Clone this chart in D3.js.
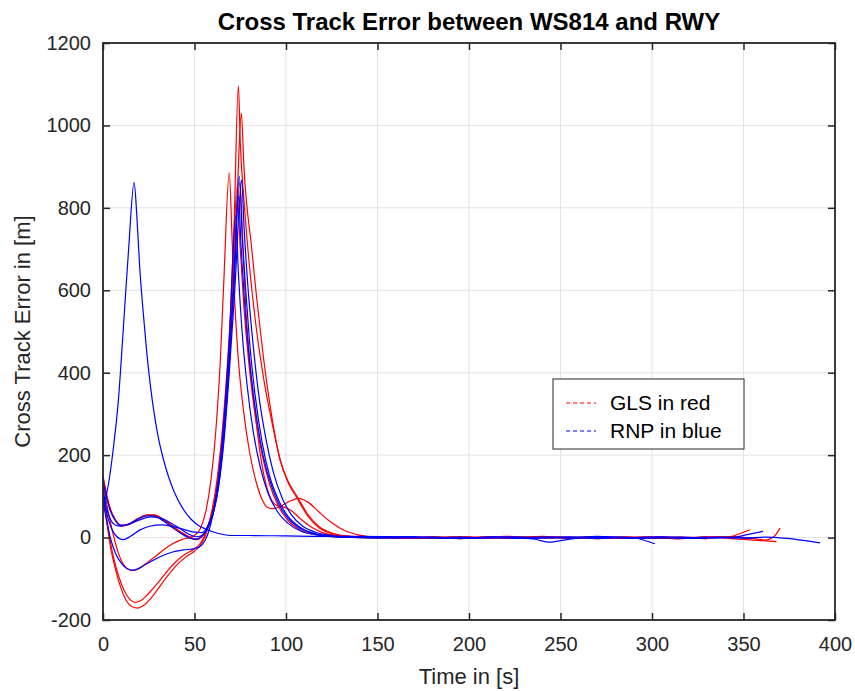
<!DOCTYPE html>
<html>
<head>
<meta charset="utf-8">
<script src="https://cdn.jsdelivr.net/npm/d3@7"></script>
<style>
  body { margin: 0; background: #fff; }
  svg { font-family: "Liberation Sans", Arial, sans-serif; }
</style>
</head>
<body>
<svg id="chart" width="855" height="691"></svg>
<script>
// tick values
const xTicks = [0, 50, 100, 150, 200, 250, 300, 350, 400];
const yTicks = [-200, 0, 200, 400, 600, 800, 1000, 1200];

// GLS runs (red), [time s, error m]
const gls1 = [[0,150],[2,105],[4,70],[7,42],[10,30],[14,33],[19,46],[24,55],[28,55],[33,44],[38,28],[43,12],[48,0],[51,-4],[54,4],[57,25],[60,65],[63,140],[66,270],[69,470],[71.5,740],[74,1096],[75,960],[77,820],[80,660],[84,500],[88,380],[93,265],[97,185],[101,135],[106,96],[112,52],[118,24],[125,10],[135,3],[150,0],[165,-2],[180,1],[195,-3],[210,2],[225,-1],[240,3],[255,-2],[270,1],[285,-2],[300,2],[315,-1],[330,2],[341,0],[347,8],[353.5,19]];
const gls2 = [[0,110],[2,40],[4,-20],[7,-80],[10,-125],[13,-155],[16,-168],[19,-171],[22,-165],[26,-148],[30,-125],[35,-95],[40,-68],[45,-48],[50,-33],[53,-20],[56,5],[59,50],[62,120],[65,230],[68,390],[71,600],[73.5,850],[75.6,1030],[77,900],[81.3,700],[84,580],[87.6,440],[92,300],[96.7,190],[101,138],[106,100],[112,56],[118,27],[125,11],[135,3],[150,0],[165,2],[180,-1],[195,1],[210,-2],[225,2],[240,-1],[255,1],[270,-3],[285,1],[300,-2],[315,1],[330,-1],[345,2],[355,-2],[362,-6],[366,0],[370,23]];
const gls3 = [[0,130],[3,60],[6,0],[9,-45],[12,-70],[16,-80],[19,-77],[23,-65],[28,-48],[33,-30],[38,-15],[43,-5],[47,0],[50,5],[53,20],[56,60],[59,140],[62,280],[64,420],[66,620],[69,885],[70.5,730],[72,570],[74,430],[77,300],[80,210],[84,130],[87,92],[90,73],[93,70],[97,76],[102,88],[107,95],[112,86],[118,62],[125,36],[132,17],[140,6],[150,1],[165,-1],[180,2],[195,-1],[210,1],[225,-2],[240,2],[255,0],[270,-2],[285,2],[300,0],[315,-3],[330,1],[345,-3],[355,-6],[362,-8],[368,-10]];
const gls4 = [[0,120],[2,50],[4,-10],[7,-70],[10,-112],[13,-140],[17.5,-157],[21,-152],[25,-135],[30,-110],[35,-82],[40,-58],[45,-40],[50,-27],[53,-15],[56,10],[59,55],[62,130],[65,250],[68,420],[71,630],[74.8,860],[76.5,700],[78,560],[80,440],[83,310],[86,200],[89,130],[92,92],[95,78],[99,74],[103,65],[108,45],[114,25],[120,12],[130,4],[145,0],[160,2],[175,-1],[190,2],[205,0],[220,3],[235,1],[250,-1],[265,2],[280,-1],[295,1],[310,-2],[325,0],[338,2],[346,3]];
const gls5 = [[0,145],[2,100],[4,68],[7,40],[10,28],[14,31],[19,44],[24,53],[28,54],[33,43],[38,27],[43,11],[48,-1],[51,-5],[54,2],[57,22],[60,60],[63,130],[66,260],[69,450],[71,650],[73.2,850],[75,700],[77,560],[80,410],[83,300],[87,200],[91,130],[96,75],[101,42],[107,20],[115,8],[125,2],[140,0],[155,1],[170,-2],[185,0],[200,2],[215,-1],[230,0],[245,2],[260,-1],[275,1],[290,-1],[305,2],[318,0],[330,-3]];

// RNP runs (blue)
const rnp1 = [[0,70],[3,130],[6,230],[8.4,333],[11,500],[14,700],[17,862],[18.5,780],[20,660],[22,545],[24,445],[26,365],[28,300],[30,248],[33,190],[36,145],[39,110],[43,75],[48,45],[52,30],[56,21],[60,14],[65,8],[70,5],[80,5],[100,4],[120,3],[140,3],[160,2],[180,0],[200,-1],[215,1],[230,-2],[245,0],[260,1],[275,-1],[290,0],[305,2],[318,-1],[330,1]];
const rnp2 = [[0,140],[2,95],[4,65],[7,40],[10,30],[14,33],[19,45],[24,53],[28,52],[33,40],[38,24],[43,9],[48,-2],[51,-4],[54,3],[57,20],[60,55],[63,120],[66,240],[69,420],[71.5,620],[74.5,877],[76,740],[78,600],[80,480],[83,350],[87,230],[91,150],[96,90],[101,52],[107,27],[114,12],[122,5],[135,1],[150,0],[165,1],[180,-1],[195,1],[210,-1],[225,0],[236,-4],[244,-11],[252,-6],[262,0],[275,1],[290,-1],[305,1],[320,-2],[335,0],[345,1],[352,7],[360.7,15]];
const rnp3 = [[0,100],[2,60],[4,30],[7,5],[11,-5],[15,3],[20,18],[26,28],[32,31],[38,27],[44,20],[50,13],[54,12],[57,25],[60,55],[63,120],[66,230],[69,400],[72,600],[75.8,867],[77,760],[79,620],[82,470],[85,350],[89,240],[93,160],[98,95],[103,55],[109,28],[116,13],[125,5],[135,1],[150,0],[165,-1],[180,1],[195,-1],[210,0],[225,2],[240,-1],[255,1],[270,-2],[283,1],[290,0],[296,-7],[301.6,-15]];
const rnp4 = [[0,90],[2,40],[4,0],[7,-40],[10,-62],[13,-75],[16,-79],[19,-76],[23,-66],[28,-54],[33,-43],[38,-35],[44,-30],[50,-27],[54,-18],[57,5],[60,55],[63,140],[66,280],[69,480],[72.5,782],[74,640],[76,500],[79,360],[82,260],[86,170],[90,110],[95,65],[101,35],[108,16],[116,7],[125,2],[140,0],[155,-1],[170,1],[185,0],[200,-1],[215,1],[230,-1],[245,1],[260,0],[275,2],[290,-1],[305,0],[320,-2],[335,1],[350,-1],[362,1],[373.6,-2],[383,-7],[391.8,-13]];
const rnp5 = [[0,115],[2,70],[4,45],[7,30],[10,28],[14,32],[20,43],[26,50],[31,48],[36,38],[42,22],[47,8],[51,2],[54,5],[57,25],[60,60],[63,130],[66,250],[69,430],[72,650],[74,830],[75.5,700],[77.5,560],[80,430],[83,320],[87,210],[91,140],[96,82],[101,47],[107,24],[114,11],[122,4],[135,1],[150,0],[165,2],[180,0],[195,-2],[210,1],[225,-1],[240,1],[255,-1],[270,3],[285,0],[300,-1],[315,1],[330,-1],[345,0],[355,-2]];

const redSeries = [gls1, gls2, gls3, gls4, gls5];
const blueSeries = [rnp1, rnp2, rnp3, rnp4, rnp5];
const legendLabels = ["GLS in red", "RNP in blue"];

const width = 855, height = 691;
const margin = {top: 43, right: 20, bottom: 71, left: 103};

const svg = d3.select("#chart");

const x = d3.scaleLinear()
  .domain([0, 400])
  .range([margin.left, width - margin.right]);

const y = d3.scaleLinear()
  .domain([-200, 1200])
  .range([height - margin.bottom, margin.top]);

const axisColor = "#262626";

// grid
svg.append("g")
  .selectAll("line")
  .data(xTicks.slice(1, -1))
  .enter().append("line")
    .attr("x1", d => x(d)).attr("x2", d => x(d))
    .attr("y1", y(-200)).attr("y2", y(1200))
    .attr("stroke", "#e3e3e3").attr("stroke-width", 1);

svg.append("g")
  .selectAll("line")
  .data(yTicks.slice(1, -1))
  .enter().append("line")
    .attr("x1", x(0)).attr("x2", x(400))
    .attr("y1", d => y(d)).attr("y2", d => y(d))
    .attr("stroke", "#e3e3e3").attr("stroke-width", 1);

// data lines
const line = d3.line()
  .x(d => x(d[0]))
  .y(d => y(d[1]))
  .curve(d3.curveMonotoneX);

const plot = svg.append("g");

redSeries.forEach(s => {
  plot.append("path")
    .datum(s)
    .attr("fill", "none")
    .attr("stroke", "#ff0000")
    .attr("stroke-width", 1.2)
    .attr("d", line);
});

blueSeries.forEach(s => {
  plot.append("path")
    .datum(s)
    .attr("fill", "none")
    .attr("stroke", "#0000ff")
    .attr("stroke-width", 1.2)
    .attr("d", line);
});

// axes (ticks inside, mirrored)
const tickLen = 7;
const fmt = d => String(d);

const xAxis = g => g
  .attr("transform", `translate(0,${y(-200)})`)
  .call(d3.axisBottom(x).tickValues(xTicks).tickFormat(fmt).tickSize(-tickLen).tickPadding(tickLen + 10))
  .call(g => g.select(".domain").remove());

const xAxisTop = g => g
  .attr("transform", `translate(0,${y(1200)})`)
  .call(d3.axisTop(x).tickValues(xTicks).tickSize(-tickLen).tickFormat(""))
  .call(g => g.select(".domain").remove());

const yAxis = g => g
  .attr("transform", `translate(${x(0)},0)`)
  .call(d3.axisLeft(y).tickValues(yTicks).tickFormat(fmt).tickSize(-tickLen).tickPadding(tickLen + 5))
  .call(g => g.select(".domain").remove());

const yAxisRight = g => g
  .attr("transform", `translate(${x(400)},0)`)
  .call(d3.axisRight(y).tickValues(yTicks).tickSize(-tickLen).tickFormat(""))
  .call(g => g.select(".domain").remove());

[xAxis, xAxisTop, yAxis, yAxisRight].forEach(a => {
  svg.append("g").call(a)
    .call(g => g.selectAll(".tick line").attr("stroke", axisColor).attr("stroke-width", 1.5))
    .call(g => g.selectAll(".tick text")
      .attr("fill", axisColor)
      .attr("font-size", "20px")
      .attr("font-family", "Liberation Sans, Arial, sans-serif"));
});

// box
svg.append("rect")
  .attr("x", x(0)).attr("y", y(1200))
  .attr("width", x(400) - x(0)).attr("height", y(-200) - y(1200))
  .attr("fill", "none").attr("stroke", axisColor).attr("stroke-width", 1.8);

// title and labels
svg.append("text")
  .attr("x", (x(0) + x(400)) / 2).attr("y", 30)
  .attr("text-anchor", "middle")
  .attr("font-size", "24px").attr("font-weight", "bold")
  .attr("fill", "#000")
  .text("Cross Track Error between WS814 and RWY");

svg.append("text")
  .attr("x", (x(0) + x(400)) / 2).attr("y", 684)
  .attr("text-anchor", "middle")
  .attr("font-size", "22px")
  .attr("fill", axisColor)
  .text("Time in [s]");

svg.append("text")
  .attr("transform", `translate(30,${(y(-200) + y(1200)) / 2}) rotate(-90)`)
  .attr("text-anchor", "middle")
  .attr("font-size", "22px")
  .attr("fill", axisColor)
  .text("Cross Track Error in [m]");

// legend
const legend = svg.append("g").attr("transform", "translate(553,379)");
legend.append("rect")
  .attr("width", 191).attr("height", 70)
  .attr("fill", "#fff").attr("stroke", axisColor).attr("stroke-width", 1);

const legendColors = ["#ff0000", "#0000ff"];
legendLabels.forEach((lab, i) => {
  const ly = 24 + i * 28;
  legend.append("line")
    .attr("x1", 13).attr("x2", 43)
    .attr("y1", ly).attr("y2", ly)
    .attr("stroke", legendColors[i]).attr("stroke-width", 1.2)
    .attr("stroke-dasharray", "4,3");
  legend.append("text")
    .attr("x", 57).attr("y", ly + 7)
    .attr("font-size", "21px")
    .attr("fill", "#000")
    .text(lab);
});
</script>
</body>
</html>
